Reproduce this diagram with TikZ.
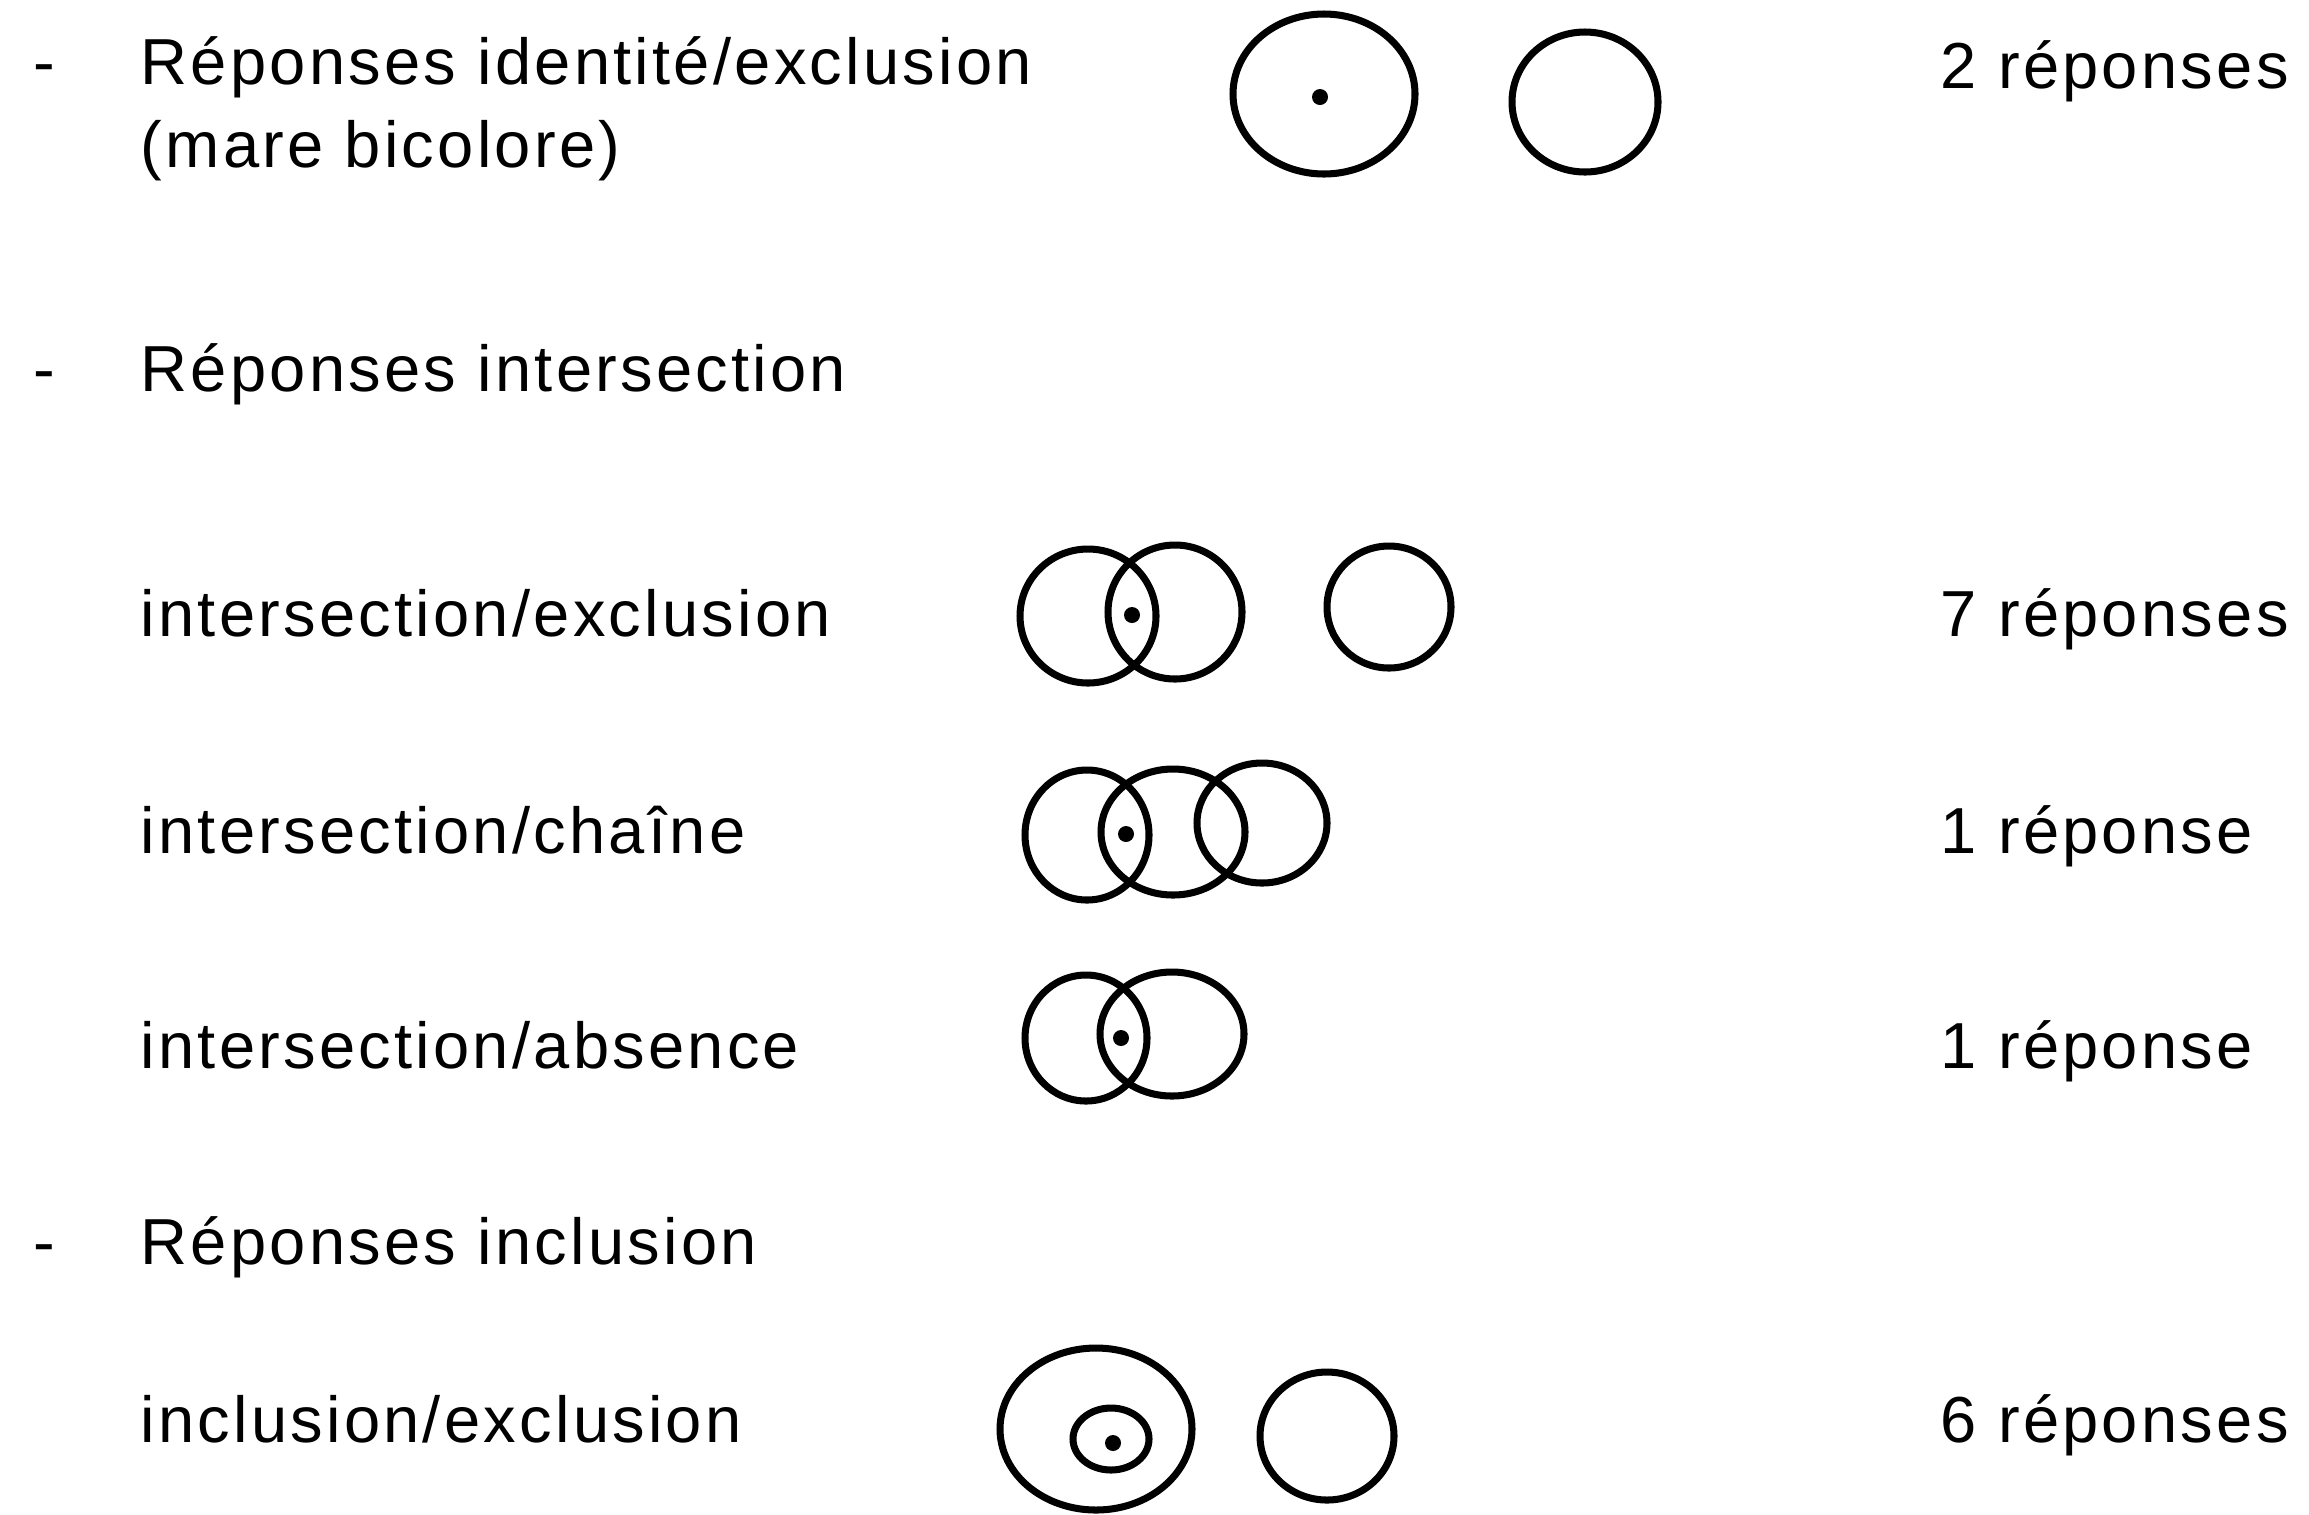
\documentclass[tikz,border=0pt]{standalone}
\usepackage{fontspec}
\setmainfont{Liberation Sans}[LetterSpace=5]

\begin{document}
\begin{tikzpicture} [x=0.01cm, y=-0.01cm,
  txt/.style={anchor=base west, inner sep=0pt, font=\fontsize{18.5}{22}\selectfont},
  ring/.style={draw, line width=2pt},
  spot/.style={fill, radius=8}]
\useasboundingbox (0,0) rectangle (2309,1514);

\node [txt] (d1) at (33,84) {-};
\node [txt] (a1) at (140,84) {Réponses identité/exclusion};
\node [txt] (a2) at (140,167) {(mare bicolore)};
\node [txt] (n1) at (1940,88) {2 réponses};

\node [txt] (d2) at (33,391) {-};
\node [txt] (b0) at (140,391) {Réponses intersection};
\node [txt] (b1) at (140,636) {intersection/exclusion};
\node [txt] (n2) at (1940,636) {7 réponses};
\node [txt] (b2) at (140,853) {intersection/chaîne};
\node [txt] (n3) at (1940,853) {1 réponse};
\node [txt] (b3) at (140,1068) {intersection/absence};
\node [txt] (n4) at (1940,1068) {1 réponse};

\node [txt] (d3) at (33,1264) {-};
\node [txt] (c0) at (140,1264) {Réponses inclusion};
\node [txt] (c1) at (140,1442) {inclusion/exclusion};
\node [txt] (n5) at (1940,1442) {6 réponses};

\draw [ring] (1324,94) ellipse [x radius=91, y radius=80];
\fill [spot] (1320,97) circle;
\draw [ring] (1585,102) ellipse [x radius=73, y radius=70];

\draw [ring] (1088,616) ellipse [x radius=68, y radius=67];
\draw [ring] (1175,612) ellipse [x radius=67, y radius=67];
\fill [spot] (1132,615) circle;
\draw [ring] (1389,607) ellipse [x radius=62, y radius=61];

\draw [ring] (1087,835) ellipse [x radius=62, y radius=65];
\draw [ring] (1173,832) ellipse [x radius=72, y radius=63];
\draw [ring] (1262,823) ellipse [x radius=65, y radius=60];
\fill [spot] (1126,834) circle;

\draw [ring] (1086,1038) ellipse [x radius=61, y radius=63];
\draw [ring] (1172,1034) ellipse [x radius=72, y radius=62];
\fill [spot] (1121,1038) circle;

\draw [ring] (1096,1429) ellipse [x radius=96, y radius=81];
\draw [ring] (1111,1439) ellipse [x radius=38, y radius=31];
\fill [spot] (1113,1443) circle;
\draw [ring] (1327,1436) ellipse [x radius=67, y radius=64];
\end{tikzpicture}
\end{document}
